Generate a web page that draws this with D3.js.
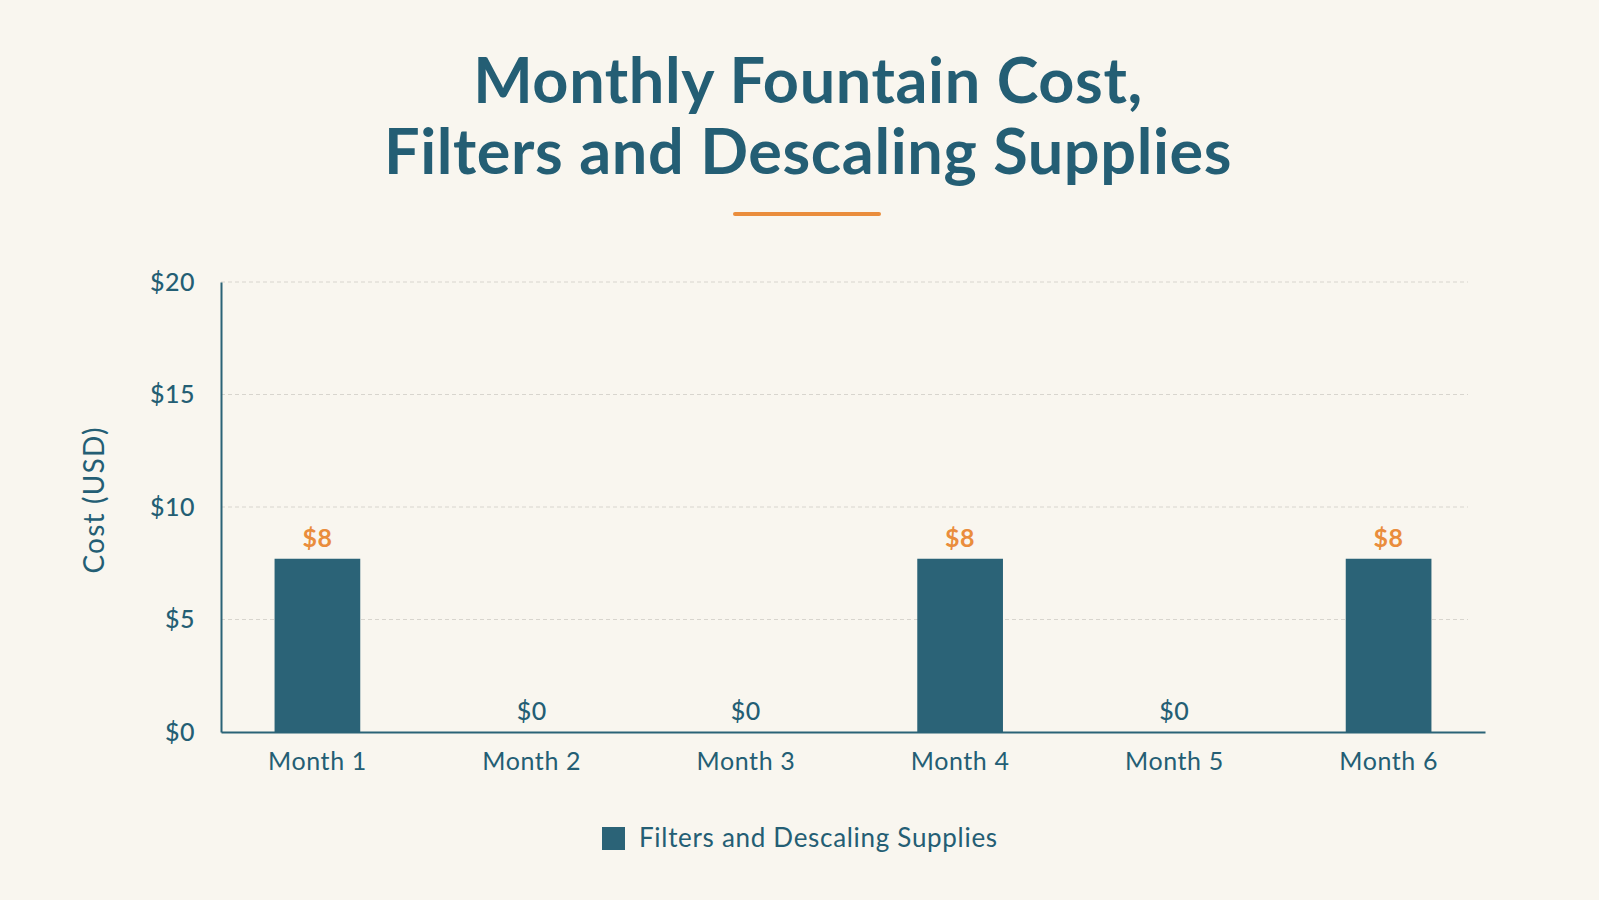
<!DOCTYPE html>
<html>
<head>
<meta charset="utf-8">
<script src="https://cdn.jsdelivr.net/npm/d3@7"></script>
<style>
    html, body { margin: 0; padding: 0; background: #f9f6ef; }
    svg { display: block; font-family: Lato, "Open Sans", sans-serif; }
</style>
</head>
<body>
<div class="svg-wrap"><svg></svg></div>
<script>
var width = 1599;
var height = 900;

var months = ["Month 1", "Month 2", "Month 3", "Month 4", "Month 5", "Month 6"];
var costs = [7.7, 0, 0, 7.7, 0, 7.7];
var yTicks = [0, 5, 10, 15, 20];
var seriesName = "Filters and Descaling Supplies";
var titleLines = ["Monthly Fountain Cost,", "Filters and Descaling Supplies"];

var teal = "#2b6377";
var textTeal = "#245e74";
var orange = "#ea8d3c";

var svg = d3.select(".svg-wrap > svg")
    .attr("width", width)
    .attr("height", height);

svg.append("rect")
    .attr("width", width).attr("height", height)
    .attr("fill", "#f9f6ef");

var x = d3.scaleBand()
    .domain(months)
    .range([221, 1485])
    .paddingInner(0.6)
    .paddingOuter(0.25);

var y = d3.scaleLinear()
    .domain([0, 20])
    .range([732, 282]);

var money = d3.format("$.0f");

// title
svg.append("g")
    .attr("class", "title")
    .selectAll("text")
    .data(titleLines).enter().append("text")
    .attr("x", 808)
    .attr("y", function (d, i) { return 103 + i * 71; })
    .attr("text-anchor", "middle")
    .attr("font-size", 63)
    .attr("font-weight", 700)
    .attr("letter-spacing", 0.6)
    .attr("fill", textTeal)
    .text(function (d) { return d; });

svg.append("line")
    .attr("x1", 735).attr("x2", 879)
    .attr("y1", 214).attr("y2", 214)
    .attr("stroke", orange)
    .attr("stroke-width", 4)
    .attr("stroke-linecap", "round");

// grid
svg.append("g")
    .attr("class", "grid")
    .selectAll("line")
    .data(yTicks.filter(function (d) { return d > 0; })).enter().append("line")
    .attr("x1", 221).attr("x2", 1468)
    .attr("y1", y).attr("y2", y)
    .attr("stroke", "#d8d5ce")
    .attr("stroke-width", 1)
    .attr("stroke-dasharray", "4,3");

// y axis
var yAxis = svg.append("g")
    .attr("class", "y-axis")
    .attr("transform", "translate(221,0)")
    .call(d3.axisLeft(y).tickValues(yTicks).tickSize(0).tickPadding(26).tickFormat(money));
yAxis.select(".domain").attr("stroke", teal).attr("stroke-width", 2);
yAxis.selectAll("text")
    .attr("font-size", 25)
    .attr("font-weight", 500)
    .attr("letter-spacing", 0.5)
    .attr("font-family", "Lato, sans-serif")
    .attr("fill", textTeal);

svg.append("text")
    .attr("transform", "translate(104,500) rotate(-90)")
    .attr("text-anchor", "middle")
    .attr("font-size", 28)
    .attr("letter-spacing", 1.2)
    .attr("fill", textTeal)
    .text("Cost (USD)");

// bars
svg.append("g")
    .attr("class", "bars")
    .selectAll("rect")
    .data(costs).enter().append("rect")
    .attr("x", function (d, i) { return x(months[i]); })
    .attr("y", function (d) { return y(d); })
    .attr("width", x.bandwidth())
    .attr("height", function (d) { return y(0) - y(d); })
    .attr("fill", teal);

svg.append("g")
    .attr("class", "values")
    .selectAll("text")
    .data(costs).enter().append("text")
    .attr("x", function (d, i) { return x(months[i]) + x.bandwidth() / 2; })
    .attr("y", function (d) { return y(d) - 12; })
    .attr("text-anchor", "middle")
    .attr("font-size", 25)
    .attr("font-weight", function (d) { return d > 0 ? 700 : 500; })
    .attr("letter-spacing", 0.5)
    .attr("fill", function (d) { return d > 0 ? orange : textTeal; })
    .text(function (d) { return money(d); });

// x axis
var xAxis = svg.append("g")
    .attr("class", "x-axis")
    .attr("transform", "translate(0,732)")
    .call(d3.axisBottom(x).tickSize(0).tickPadding(20));
xAxis.select(".domain").attr("stroke", teal).attr("stroke-width", 2);
xAxis.selectAll("text")
    .attr("font-size", 25)
    .attr("letter-spacing", 0.6)
    .attr("font-family", "Lato, sans-serif")
    .attr("fill", textTeal);

// legend
var legend = svg.append("g")
    .attr("class", "legend")
    .attr("transform", "translate(602,827)");
legend.append("rect")
    .attr("width", 23).attr("height", 23)
    .attr("fill", teal);
legend.append("text")
    .attr("x", 37).attr("y", 20)
    .attr("font-size", 26)
    .attr("letter-spacing", 0.7)
    .attr("fill", textTeal)
    .text(seriesName);
</script>
</body>
</html>
